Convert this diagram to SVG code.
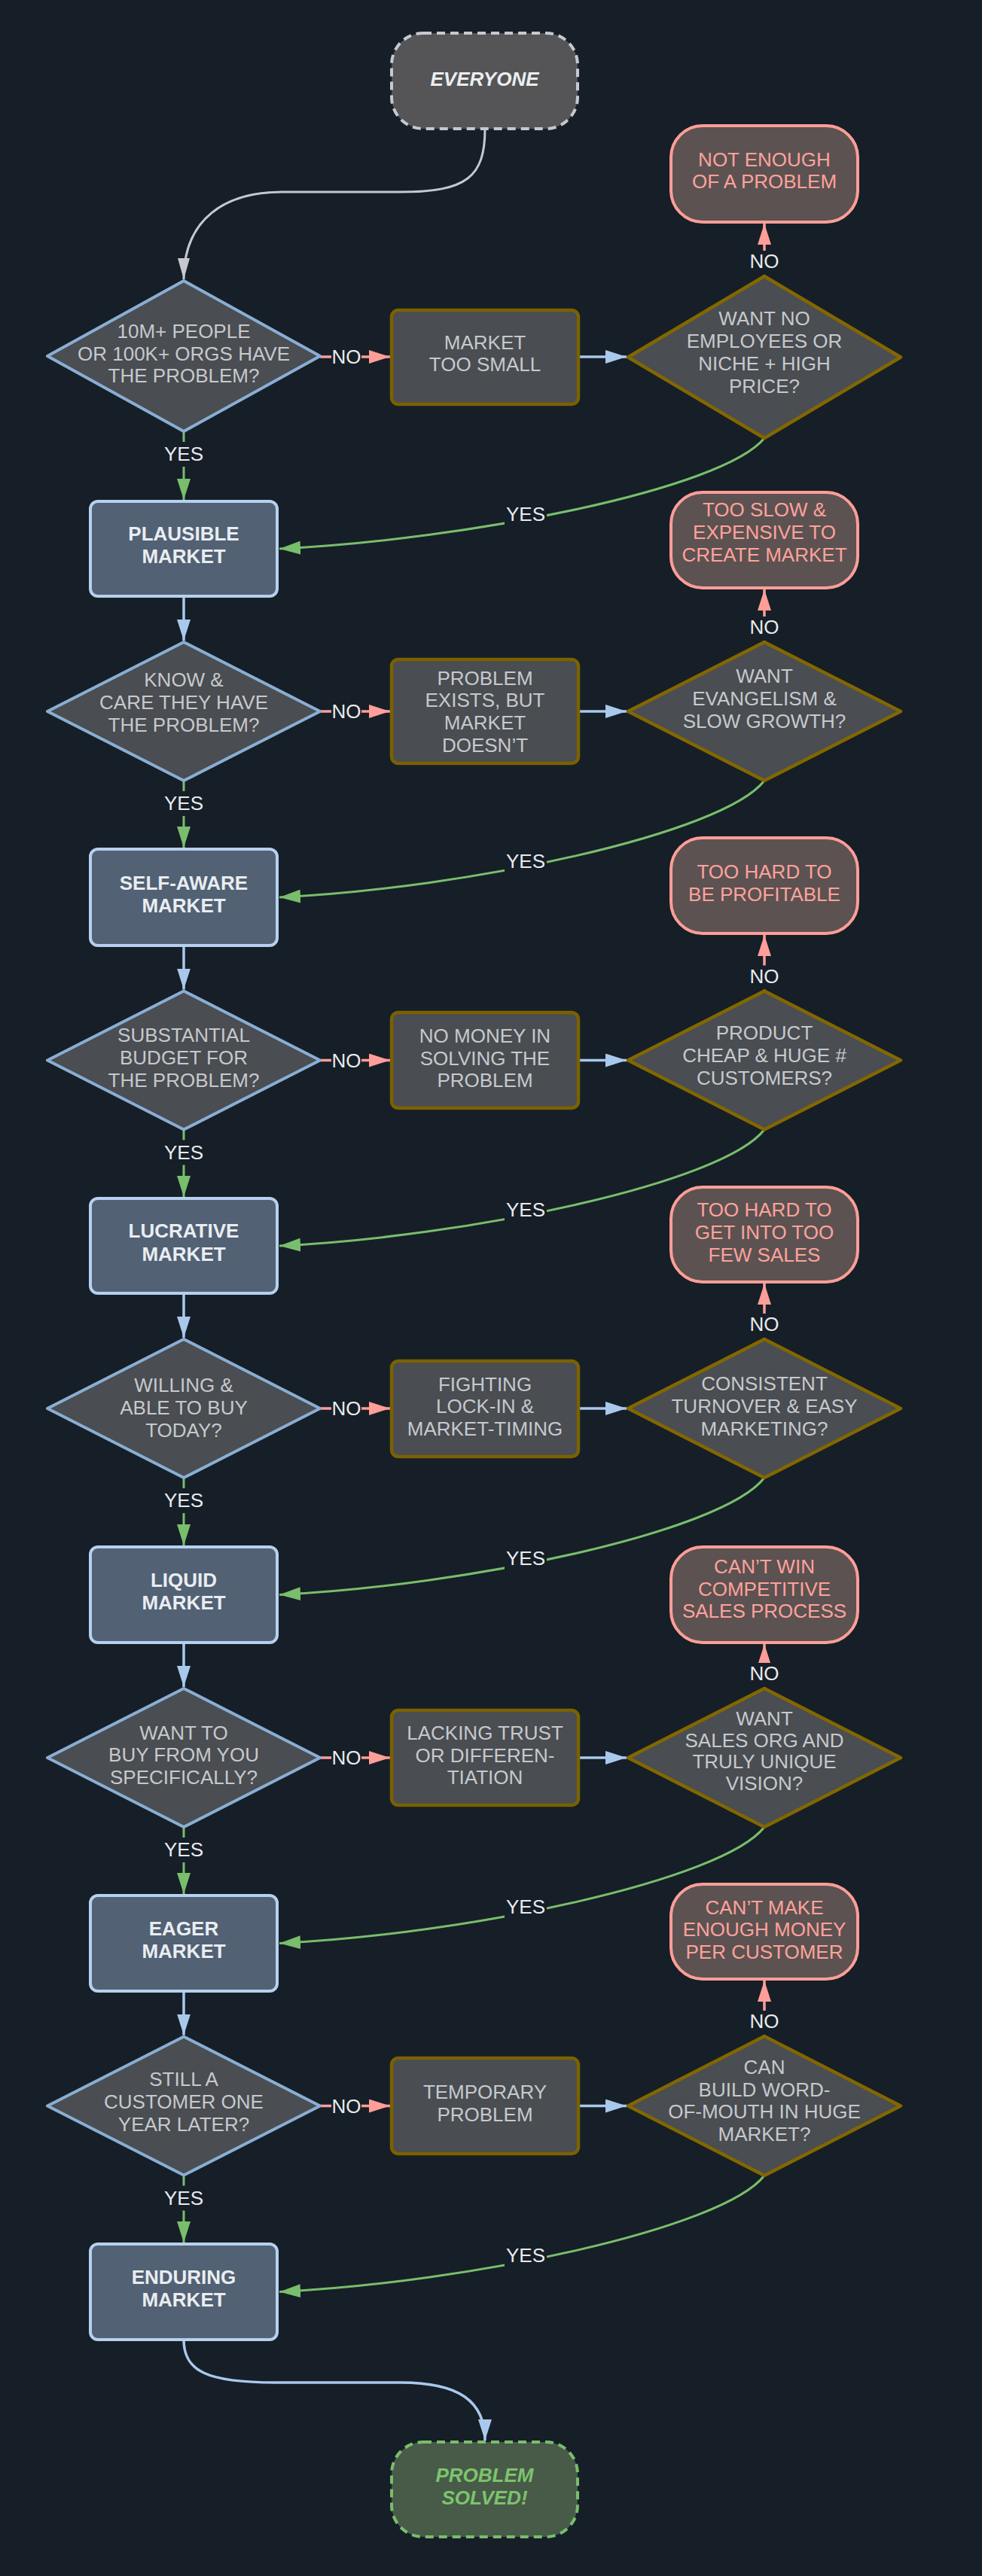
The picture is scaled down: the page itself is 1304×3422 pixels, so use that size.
<svg xmlns="http://www.w3.org/2000/svg" width="1304" height="3422" viewBox="0 0 1304 3422">
<style>
.dq{fill:#4a4d51;stroke:#8aaed4;stroke-width:4;stroke-linejoin:round}
.dr{fill:#4a4d51;stroke:#826700;stroke-width:4.5;stroke-linejoin:round}
.bo{fill:#4a4d51;stroke:#7a6100;stroke-width:4.5}
.tm{fill:#5c5251;stroke:#ff9e98;stroke-width:4}
.mk{fill:#526174;stroke:#b5d1ef;stroke-width:4}
.st{fill:#555558;stroke:#c5c9cf;stroke-width:4;stroke-dasharray:11 7}
.en{fill:#485a48;stroke:#78be6c;stroke-width:4;stroke-dasharray:11 7}
text{font-family:"Liberation Sans",Arial,sans-serif;font-size:26px;text-anchor:middle;dominant-baseline:central}
.tg{fill:#c6c9ce}
.tk{fill:#e9edf1;font-weight:bold}
.tt{fill:#ffa29c}
.ts{fill:#eceef0;font-weight:bold;font-style:italic}
.te{fill:#7cc46e;font-weight:bold;font-style:italic}
.lb{fill:#e8ebee}
.lbg{fill:#161e27}
.eno{stroke:#ff9e98;stroke-width:3.5;fill:none}
.ebl{stroke:#a9c9ec;stroke-width:3.5;fill:none}
.eye{stroke:#78be6c;stroke-width:3;fill:none}
.egr{stroke:#c5c9cf;stroke-width:3;fill:none}
</style>
<defs>
<marker id="aNo" markerUnits="userSpaceOnUse" markerWidth="28" markerHeight="18" viewBox="0 0 28 18" refX="28" refY="9" orient="auto"><path d="M0,0 L28,9 L0,18 Z" fill="#ff9e98"/></marker>
<marker id="aBl" markerUnits="userSpaceOnUse" markerWidth="28" markerHeight="18" viewBox="0 0 28 18" refX="28" refY="9" orient="auto"><path d="M0,0 L28,9 L0,18 Z" fill="#a9c9ec"/></marker>
<marker id="aYe" markerUnits="userSpaceOnUse" markerWidth="28" markerHeight="18" viewBox="0 0 28 18" refX="28" refY="9" orient="auto"><path d="M0,0 L28,9 L0,18 Z" fill="#78be6c"/></marker>
<marker id="aGr" markerUnits="userSpaceOnUse" markerWidth="28" markerHeight="16" viewBox="0 0 28 16" refX="28" refY="8" orient="auto"><path d="M0,0 L28,8 L0,16 Z" fill="#c5c9cf"/></marker>
</defs>
<rect x="0" y="0" width="1304" height="3422" fill="#161e27"/>

<g id="connectors">
<path class="egr" d="M644,171 C644,235 620,255 532,255 L374,255 C300,255 244,290 244,371" marker-end="url(#aGr)"/>
<path class="ebl" d="M244,3108 C244,3150 275,3165 366,3165 L532,3165 C610,3165 644,3190 644,3242" marker-end="url(#aBl)"/>

<path class="eno" d="M425,474 L518,474" marker-end="url(#aNo)"/>
<path class="eno" d="M425,945 L518,945" marker-end="url(#aNo)"/>
<path class="eno" d="M425,1408.5 L518,1408.5" marker-end="url(#aNo)"/>
<path class="eno" d="M425,1871 L518,1871" marker-end="url(#aNo)"/>
<path class="eno" d="M425,2335 L518,2335" marker-end="url(#aNo)"/>
<path class="eno" d="M425,2797.5 L518,2797.5" marker-end="url(#aNo)"/>

<path class="ebl" d="M768,474 L832,474" marker-end="url(#aBl)"/>
<path class="ebl" d="M768,945 L832,945" marker-end="url(#aBl)"/>
<path class="ebl" d="M768,1408.5 L832,1408.5" marker-end="url(#aBl)"/>
<path class="ebl" d="M768,1871 L832,1871" marker-end="url(#aBl)"/>
<path class="ebl" d="M768,2335 L832,2335" marker-end="url(#aBl)"/>
<path class="ebl" d="M768,2797.5 L832,2797.5" marker-end="url(#aBl)"/>

<path class="eno" d="M1015,367 L1015,297" marker-end="url(#aNo)"/>
<path class="eno" d="M1015,853 L1015,783" marker-end="url(#aNo)"/>
<path class="eno" d="M1015,1316.5 L1015,1242" marker-end="url(#aNo)"/>
<path class="eno" d="M1015,1779 L1015,1705" marker-end="url(#aNo)"/>
<path class="eno" d="M1015,2243 L1015,2184" marker-end="url(#aNo)"/>
<path class="eno" d="M1015,2705 L1015,2631" marker-end="url(#aNo)"/>

<path class="eye" d="M244,573 L244,664" marker-end="url(#aYe)"/>
<path class="eye" d="M244,1037 L244,1126" marker-end="url(#aYe)"/>
<path class="eye" d="M244,1500.5 L244,1590" marker-end="url(#aYe)"/>
<path class="eye" d="M244,1963 L244,2053" marker-end="url(#aYe)"/>
<path class="eye" d="M244,2427 L244,2516" marker-end="url(#aYe)"/>
<path class="eye" d="M244,2889.5 L244,2979" marker-end="url(#aYe)"/>

<path class="ebl" d="M244,792 L244,851" marker-end="url(#aBl)"/>
<path class="ebl" d="M244,1256 L244,1314.5" marker-end="url(#aBl)"/>
<path class="ebl" d="M244,1718 L244,1777" marker-end="url(#aBl)"/>
<path class="ebl" d="M244,2182 L244,2241" marker-end="url(#aBl)"/>
<path class="ebl" d="M244,2645 L244,2703.5" marker-end="url(#aBl)"/>

<path class="eye" d="M1015,582 C960,650 620,717 371,729" marker-end="url(#aYe)"/>
<path class="eye" d="M1015,1037 C960,1108 620,1180 371,1192" marker-end="url(#aYe)"/>
<path class="eye" d="M1015,1500.5 C960,1572 620,1643 371,1655" marker-end="url(#aYe)"/>
<path class="eye" d="M1015,1963 C960,2035 620,2106.5 371,2118.5" marker-end="url(#aYe)"/>
<path class="eye" d="M1015,2427 C960,2498 620,2569.5 371,2581.5" marker-end="url(#aYe)"/>
<path class="eye" d="M1015,2890 C960,2961 620,3032.5 371,3044.5" marker-end="url(#aYe)"/>

<g id="labels">
<rect class="lbg" x="440" y="459" width="40" height="30"/><text class="lb" x="460" y="474">NO</text>
<rect class="lbg" x="440" y="930" width="40" height="30"/><text class="lb" x="460" y="945">NO</text>
<rect class="lbg" x="440" y="1393.5" width="40" height="30"/><text class="lb" x="460" y="1408.5">NO</text>
<rect class="lbg" x="440" y="1856" width="40" height="30"/><text class="lb" x="460" y="1871">NO</text>
<rect class="lbg" x="440" y="2320" width="40" height="30"/><text class="lb" x="460" y="2335">NO</text>
<rect class="lbg" x="440" y="2782.5" width="40" height="30"/><text class="lb" x="460" y="2797.5">NO</text>

<rect class="lbg" x="994" y="333" width="42" height="32"/><text class="lb" x="1015" y="347">NO</text>
<rect class="lbg" x="994" y="819" width="42" height="32"/><text class="lb" x="1015" y="833">NO</text>
<rect class="lbg" x="994" y="1282.5" width="42" height="32"/><text class="lb" x="1015" y="1296.5">NO</text>
<rect class="lbg" x="994" y="1745" width="42" height="32"/><text class="lb" x="1015" y="1759">NO</text>
<rect class="lbg" x="994" y="2209" width="42" height="32"/><text class="lb" x="1015" y="2223">NO</text>
<rect class="lbg" x="994" y="2671" width="42" height="32"/><text class="lb" x="1015" y="2685">NO</text>

<rect class="lbg" x="216" y="587" width="56" height="33"/><text class="lb" x="244" y="603">YES</text>
<rect class="lbg" x="216" y="1051" width="56" height="33"/><text class="lb" x="244" y="1067">YES</text>
<rect class="lbg" x="216" y="1514.5" width="56" height="33"/><text class="lb" x="244" y="1530.5">YES</text>
<rect class="lbg" x="216" y="1977" width="56" height="33"/><text class="lb" x="244" y="1993">YES</text>
<rect class="lbg" x="216" y="2441" width="56" height="33"/><text class="lb" x="244" y="2457">YES</text>
<rect class="lbg" x="216" y="2903.5" width="56" height="33"/><text class="lb" x="244" y="2919.5">YES</text>

<rect class="lbg" x="670" y="667" width="56" height="32"/><text class="lb" x="698" y="683">YES</text>
<rect class="lbg" x="670" y="1128" width="56" height="32"/><text class="lb" x="698" y="1144">YES</text>
<rect class="lbg" x="670" y="1591" width="56" height="32"/><text class="lb" x="698" y="1607">YES</text>
<rect class="lbg" x="670" y="2054" width="56" height="32"/><text class="lb" x="698" y="2070">YES</text>
<rect class="lbg" x="670" y="2517" width="56" height="32"/><text class="lb" x="698" y="2533">YES</text>
<rect class="lbg" x="670" y="2980" width="56" height="32"/><text class="lb" x="698" y="2996">YES</text>
</g>
</g>

<g id="everyone"><rect class="st" x="520" y="44" width="247" height="127" rx="42"/><text class="ts" x="643.5" y="105">EVERYONE</text></g>

<g id="q1"><polygon class="dq" points="244,373 425,473 244,573 63,473"/><text class="tg" x="244" y="440">10M+ PEOPLE</text><text class="tg" x="244" y="469.5">OR 100K+ ORGS HAVE</text><text class="tg" x="244" y="499">THE PROBLEM?</text></g>
<g id="b1"><rect class="bo" x="520" y="412" width="248" height="125" rx="9"/><text class="tg" x="644" y="455">MARKET</text><text class="tg" x="644" y="484">TOO SMALL</text></g>
<g id="r1"><polygon class="dr" points="1015,367 1196,474.5 1015,582 834,474.5"/><text class="tg" x="1015" y="423">WANT NO</text><text class="tg" x="1015" y="453">EMPLOYEES OR</text><text class="tg" x="1015" y="483">NICHE + HIGH</text><text class="tg" x="1015" y="513">PRICE?</text></g>
<g id="t1"><rect class="tm" x="891" y="167" width="248" height="128" rx="42"/><text class="tt" x="1015" y="212">NOT ENOUGH</text><text class="tt" x="1015" y="241">OF A PROBLEM</text></g>
<g id="m1"><rect class="mk" x="120" y="666" width="248" height="126" rx="10"/><text class="tk" x="244" y="709">PLAUSIBLE</text><text class="tk" x="244" y="739">MARKET</text></g>

<g id="q2"><polygon class="dq" points="244,853 425,945 244,1037 63,945"/><text class="tg" x="244" y="903">KNOW &amp;</text><text class="tg" x="244" y="933">CARE THEY HAVE</text><text class="tg" x="244" y="963">THE PROBLEM?</text></g>
<g id="b2"><rect class="bo" x="520" y="876" width="248" height="138" rx="9"/><text class="tg" x="644" y="900.5">PROBLEM</text><text class="tg" x="644" y="930">EXISTS, BUT</text><text class="tg" x="644" y="960">MARKET</text><text class="tg" x="644" y="989.5">DOESN’T</text></g>
<g id="r2"><polygon class="dr" points="1015,853 1196,945 1015,1037 834,945"/><text class="tg" x="1015" y="898">WANT</text><text class="tg" x="1015" y="928">EVANGELISM &amp;</text><text class="tg" x="1015" y="958">SLOW GROWTH?</text></g>
<g id="t2"><rect class="tm" x="891" y="654" width="248" height="127" rx="42"/><text class="tt" x="1015" y="677">TOO SLOW &amp;</text><text class="tt" x="1015" y="707">EXPENSIVE TO</text><text class="tt" x="1015" y="737">CREATE MARKET</text></g>
<g id="m2"><rect class="mk" x="120" y="1128" width="248" height="128" rx="10"/><text class="tk" x="244" y="1172.5">SELF-AWARE</text><text class="tk" x="244" y="1202.5">MARKET</text></g>

<g id="q3"><polygon class="dq" points="244,1316.5 425,1408.5 244,1500.5 63,1408.5"/><text class="tg" x="244" y="1375">SUBSTANTIAL</text><text class="tg" x="244" y="1405">BUDGET FOR</text><text class="tg" x="244" y="1435">THE PROBLEM?</text></g>
<g id="b3"><rect class="bo" x="520" y="1345" width="248" height="127" rx="9"/><text class="tg" x="644" y="1376">NO MONEY IN</text><text class="tg" x="644" y="1405.5">SOLVING THE</text><text class="tg" x="644" y="1435">PROBLEM</text></g>
<g id="r3"><polygon class="dr" points="1015,1316.5 1196,1408.5 1015,1500.5 834,1408.5"/><text class="tg" x="1015" y="1372">PRODUCT</text><text class="tg" x="1015" y="1402">CHEAP &amp; HUGE #</text><text class="tg" x="1015" y="1432">CUSTOMERS?</text></g>
<g id="t3"><rect class="tm" x="891" y="1113" width="248" height="127" rx="42"/><text class="tt" x="1015" y="1157.5">TOO HARD TO</text><text class="tt" x="1015" y="1187.5">BE PROFITABLE</text></g>
<g id="m3"><rect class="mk" x="120" y="1592" width="248" height="126" rx="10"/><text class="tk" x="244" y="1635">LUCRATIVE</text><text class="tk" x="244" y="1665.5">MARKET</text></g>

<g id="q4"><polygon class="dq" points="244,1779 425,1871 244,1963 63,1871"/><text class="tg" x="244" y="1840">WILLING &amp;</text><text class="tg" x="244" y="1870">ABLE TO BUY</text><text class="tg" x="244" y="1900">TODAY?</text></g>
<g id="b4"><rect class="bo" x="520" y="1808" width="248" height="127" rx="9"/><text class="tg" x="644" y="1838.5">FIGHTING</text><text class="tg" x="644" y="1868">LOCK-IN &amp;</text><text class="tg" x="644" y="1897.5">MARKET-TIMING</text></g>
<g id="r4"><polygon class="dr" points="1015,1779 1196,1871 1015,1963 834,1871"/><text class="tg" x="1015" y="1837.5">CONSISTENT</text><text class="tg" x="1015" y="1867.5">TURNOVER &amp; EASY</text><text class="tg" x="1015" y="1897.5">MARKETING?</text></g>
<g id="t4"><rect class="tm" x="891" y="1577" width="248" height="126" rx="42"/><text class="tt" x="1015" y="1607">TOO HARD TO</text><text class="tt" x="1015" y="1637">GET INTO TOO</text><text class="tt" x="1015" y="1667">FEW SALES</text></g>
<g id="m4"><rect class="mk" x="120" y="2055" width="248" height="127" rx="10"/><text class="tk" x="244" y="2098.5">LIQUID</text><text class="tk" x="244" y="2128.5">MARKET</text></g>

<g id="q5"><polygon class="dq" points="244,2243 425,2335 244,2427 63,2335"/><text class="tg" x="244" y="2301.5">WANT TO</text><text class="tg" x="244" y="2331">BUY FROM YOU</text><text class="tg" x="244" y="2360.5">SPECIFICALLY?</text></g>
<g id="b5"><rect class="bo" x="520" y="2272" width="248" height="126" rx="9"/><text class="tg" x="644" y="2302">LACKING TRUST</text><text class="tg" x="644" y="2331.5">OR DIFFEREN-</text><text class="tg" x="644" y="2361">TIATION</text></g>
<g id="r5"><polygon class="dr" points="1015,2243 1196,2335 1015,2427 834,2335"/><text class="tg" x="1015" y="2283">WANT</text><text class="tg" x="1015" y="2311.5">SALES ORG AND</text><text class="tg" x="1015" y="2340">TRULY UNIQUE</text><text class="tg" x="1015" y="2368.5">VISION?</text></g>
<g id="t5"><rect class="tm" x="891" y="2055" width="248" height="127" rx="42"/><text class="tt" x="1015" y="2081">CAN’T WIN</text><text class="tt" x="1015" y="2110.5">COMPETITIVE</text><text class="tt" x="1015" y="2140">SALES PROCESS</text></g>
<g id="m5"><rect class="mk" x="120" y="2518" width="248" height="127" rx="10"/><text class="tk" x="244" y="2562">EAGER</text><text class="tk" x="244" y="2592">MARKET</text></g>

<g id="q6"><polygon class="dq" points="244,2705.5 425,2797.5 244,2889.5 63,2797.5"/><text class="tg" x="244" y="2762">STILL A</text><text class="tg" x="244" y="2791.5">CUSTOMER ONE</text><text class="tg" x="244" y="2821.5">YEAR LATER?</text></g>
<g id="b6"><rect class="bo" x="520" y="2734" width="248" height="127" rx="9"/><text class="tg" x="644" y="2778.5">TEMPORARY</text><text class="tg" x="644" y="2808.5">PROBLEM</text></g>
<g id="r6"><polygon class="dr" points="1015,2705 1196,2797.5 1015,2890 834,2797.5"/><text class="tg" x="1015" y="2746">CAN</text><text class="tg" x="1015" y="2775.5">BUILD WORD-</text><text class="tg" x="1015" y="2805">OF-MOUTH IN HUGE</text><text class="tg" x="1015" y="2835">MARKET?</text></g>
<g id="t6"><rect class="tm" x="891" y="2503" width="248" height="126" rx="42"/><text class="tt" x="1015" y="2533.5">CAN’T MAKE</text><text class="tt" x="1015" y="2563">ENOUGH MONEY</text><text class="tt" x="1015" y="2593">PER CUSTOMER</text></g>
<g id="m6"><rect class="mk" x="120" y="2981" width="248" height="127" rx="10"/><text class="tk" x="244" y="3025">ENDURING</text><text class="tk" x="244" y="3055">MARKET</text></g>

<g id="solved"><rect class="en" x="520" y="3244" width="247" height="126" rx="42"/><text class="te" x="643.5" y="3288">PROBLEM</text><text class="te" x="643.5" y="3318">SOLVED!</text></g>
</svg>
